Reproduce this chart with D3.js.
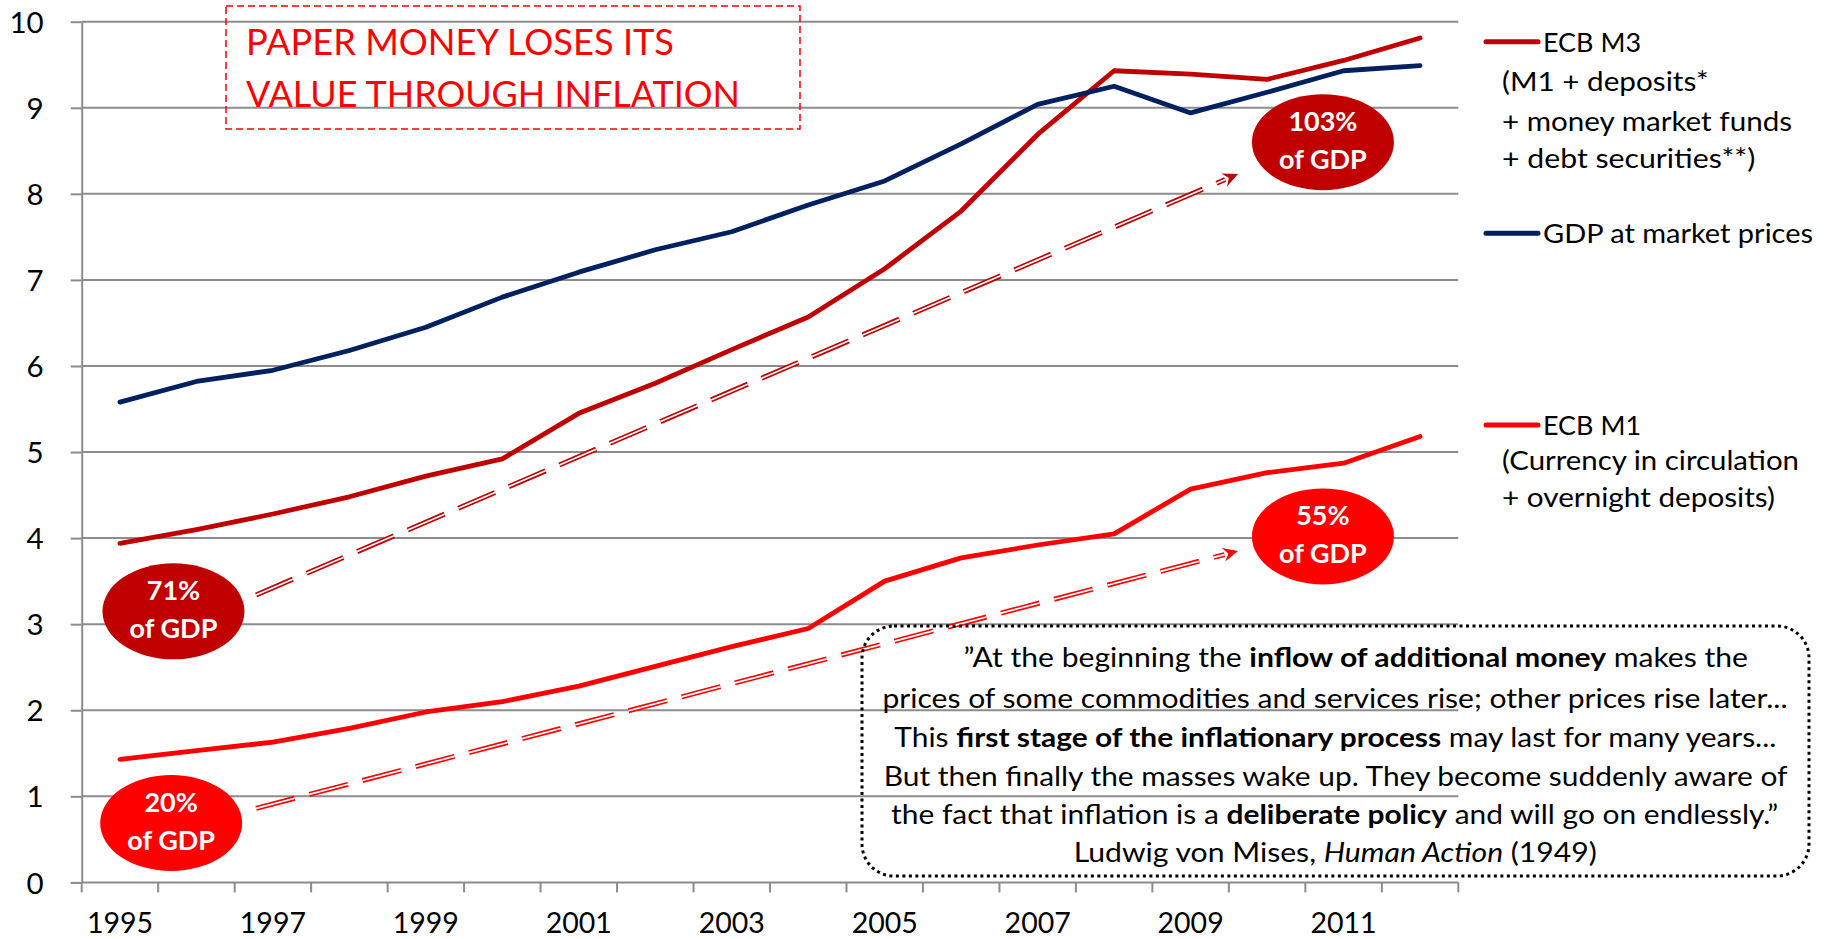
<!DOCTYPE html>
<html>
<head>
<meta charset="utf-8">
<script src="https://cdn.jsdelivr.net/npm/d3@7"></script>
<style>
  html, body { margin: 0; padding: 0; background: #fff; }
  svg { display: block; }
  text { font-family: Lato, "Open Sans", "DejaVu Sans", sans-serif; }
</style>
</head>
<body>
<svg id="chart" width="1831" height="939"></svg>
<script>
// ---------------- DATA ----------------
const years = [1995,1996,1997,1998,1999,2000,2001,2002,2003,2004,2005,2006,2007,2008,2009,2010,2011,2012];
const yearLabels = [1995,1997,1999,2001,2003,2005,2007,2009,2011];
const yTicks = [0,1,2,3,4,5,6,7,8,9,10];

const gdp = [5.58,5.82,5.95,6.18,6.45,6.80,7.09,7.35,7.56,7.87,8.15,8.58,9.04,9.25,8.94,9.18,9.43,9.49];
const m3  = [3.94,4.10,4.28,4.48,4.72,4.92,5.45,5.80,6.19,6.57,7.13,7.80,8.69,9.43,9.39,9.33,9.55,9.81];
const m1  = [1.43,1.53,1.63,1.79,1.98,2.10,2.28,2.51,2.74,2.95,3.50,3.77,3.92,4.05,4.57,4.76,4.87,5.18];

const seriesNames = ["ECB M3", "GDP at market prices", "ECB M1"];
const legendM3Notes = ["(M1 + deposits*", "+ money market funds", "+ debt securities**)"];
const legendM1Notes = ["(Currency in circulation", "+ overnight deposits)"];

const titleLines = ["PAPER MONEY LOSES ITS", "VALUE THROUGH INFLATION"];

// bubble labels: [top line, bottom line]
const bubbleLabels = [["71%", "of GDP"], ["103%", "of GDP"], ["20%", "of GDP"], ["55%", "of GDP"]];
// bubble centres in data space (fractional year, value)
const bubbleYears  = [1995.70, 2010.73, 1995.67, 2010.73];
const bubbleValues = [3.15, 8.60, 0.69, 4.02];
// growth arrows in data space
const arrowFromYear = [1996.78, 1996.78];
const arrowFromVal  = [3.34, 0.86];
const arrowToYear   = [2009.62, 2009.62];
const arrowToVal    = [8.23, 3.85];

const quoteLines = [
  [["\u201DAt the beginning the ", "n"], ["inflow of additional money", "b"], [" makes the", "n"]],
  [["prices of some commodities and services rise; other prices rise later...", "n"]],
  [["This ", "n"], ["first stage of the inflationary process", "b"], [" may last for many years...", "n"]],
  [["But then finally the masses wake up. They become suddenly aware of", "n"]],
  [["the fact that inflation is a ", "n"], ["deliberate policy", "b"], [" and will go on endlessly.\u201D", "n"]],
  [["Ludwig von Mises, ", "n"], ["Human Action", "i"], [" (1949)", "n"]]
];

// ---------------- LAYOUT / STYLE ----------------
const C_M3 = "#c00000", C_GDP = "#002060", C_M1 = "#ff0000", C_GRID = "#8c8c8c";
const svg = d3.select("#chart");

const x = d3.scaleBand().domain(years).range([81.7, 1458.3]).padding(0);
const xLin = d3.scaleLinear().domain([years[0] - 0.5, years[years.length - 1] + 0.5]).range([81.7, 1458.3]);
const y = d3.scaleLinear().domain([0, 10]).range([882.4, 21.7]);
const xc = d => x(d) + x.bandwidth() / 2;

// gridlines
svg.append("g").selectAll("line").data(yTicks.filter(d => d > 0)).join("line")
  .attr("x1", 81.7).attr("x2", 1458.3)
  .attr("y1", d => y(d)).attr("y2", d => y(d))
  .attr("stroke", C_GRID).attr("stroke-width", 2);

// y axis
const yAxis = d3.axisLeft(y).tickValues(yTicks).tickSize(11).tickSizeOuter(0).tickPadding(6);
const gy = svg.append("g").attr("transform", "translate(81.7,0)").call(yAxis);
gy.select(".domain").attr("stroke", C_GRID).attr("stroke-width", 2);
gy.selectAll(".tick line").attr("stroke", C_GRID).attr("stroke-width", 2);
gy.selectAll(".tick text").attr("font-size", 29.5).attr("fill", "#000")
  .attr("font-family", "Lato, 'Open Sans', sans-serif").attr("x", -38).attr("dy", "0.36em");

// x axis: ticks at band boundaries
const gx = svg.append("g").attr("transform", "translate(0,882.4)");
gx.append("line").attr("x1", 81.7).attr("x2", 1458.3).attr("stroke", C_GRID).attr("stroke-width", 2);
const bounds = years.map(d => x(d)).concat([x(years[years.length - 1]) + x.bandwidth()]);
gx.selectAll("line.tk").data(bounds).join("line").attr("class", "tk")
  .attr("x1", d => d).attr("x2", d => d).attr("y1", 0).attr("y2", 10)
  .attr("stroke", C_GRID).attr("stroke-width", 2);
gx.selectAll("text").data(yearLabels).join("text")
  .attr("x", d => xc(d)).attr("y", 50.8).attr("text-anchor", "middle")
  .attr("font-size", 28.5).attr("fill", "#000").text(d => d);

// growth arrows (double dashed)
const defs = svg.append("defs");
[C_M3, C_M1].forEach((c, i) => {
  defs.append("marker").attr("id", "ah" + i).attr("viewBox", "-16 -9 18 18")
    .attr("refX", 0).attr("refY", 0).attr("markerWidth", 18).attr("markerHeight", 18)
    .attr("markerUnits", "userSpaceOnUse").attr("orient", "auto")
    .append("path").attr("d", "M0,0 L-15,-7 L-10,0 L-15,7 Z").attr("fill", c);
});
[C_M3, C_M1].forEach((c, i) => {
  const x1 = xLin(arrowFromYear[i]), y1 = y(arrowFromVal[i]);
  const x2 = xLin(arrowToYear[i]), y2 = y(arrowToVal[i]);
  const ang = Math.atan2(y2 - y1, x2 - x1);
  const xe = x2 - 14 * Math.cos(ang), ye = y2 - 14 * Math.sin(ang);
  svg.append("line").attr("x1", x1).attr("y1", y1).attr("x2", xe).attr("y2", ye)
    .attr("stroke", c).attr("stroke-width", 5).attr("stroke-dasharray", "40 15");
  svg.append("line").attr("x1", x1).attr("y1", y1).attr("x2", xe).attr("y2", ye)
    .attr("stroke", "#fff").attr("stroke-width", 1.7).attr("stroke-dasharray", "40 15");
  svg.append("line").attr("x1", xe).attr("y1", ye).attr("x2", x2).attr("y2", y2)
    .attr("stroke", c).attr("stroke-width", 0).attr("marker-end", `url(#ah${i})`);
});

// series lines
const line = d3.line().x((d, i) => xc(years[i])).y(d => y(d));
[[m1, C_M1], [m3, C_M3], [gdp, C_GDP]].forEach(([s, c]) => {
  svg.append("path").datum(s).attr("d", line).attr("fill", "none")
    .attr("stroke", c).attr("stroke-width", 4.8)
    .attr("stroke-linejoin", "round").attr("stroke-linecap", "round");
});

// bubbles
const bubbleColors = [C_M3, C_M3, C_M1, C_M1];
bubbleLabels.forEach((lab, i) => {
  const cx = xLin(bubbleYears[i]), cy = y(bubbleValues[i]);
  svg.append("ellipse").attr("cx", cx).attr("cy", cy).attr("rx", 71).attr("ry", 48)
    .attr("fill", bubbleColors[i]);
  svg.append("text").attr("x", cx).attr("y", cy - 11).attr("text-anchor", "middle")
    .attr("font-size", 27).attr("font-weight", 700).attr("fill", "#fff").text(lab[0]);
  svg.append("text").attr("x", cx).attr("y", cy + 27).attr("text-anchor", "middle")
    .attr("font-size", 27).attr("font-weight", 700).attr("fill", "#fff").text(lab[1]);
});

// title box
svg.append("rect").attr("x", 226).attr("y", 6).attr("width", 574).attr("height", 123)
  .attr("fill", "none").attr("stroke", "#ff0000").attr("stroke-width", 1.5)
  .attr("stroke-dasharray", "7 4");
const titleLayout = [[246, 55, 428], [246, 107, 494]];
titleLines.forEach((t, i) => {
  svg.append("text").attr("x", titleLayout[i][0]).attr("y", titleLayout[i][1])
    .attr("font-size", 36).attr("fill", "#ff0000")
    .attr("textLength", titleLayout[i][2]).attr("lengthAdjust", "spacingAndGlyphs").text(t);
});

// legend
const legendRows = [
  { name: seriesNames[0], color: C_M3, ly: 41.7, base: 51.7, w: 98 },
  { name: seriesNames[1], color: C_GDP, ly: 233.3, base: 242.7, w: 270 },
  { name: seriesNames[2], color: C_M1, ly: 425, base: 434.5, w: 98 }
];
legendRows.forEach(r => {
  svg.append("line").attr("x1", 1486).attr("x2", 1538).attr("y1", r.ly).attr("y2", r.ly)
    .attr("stroke", r.color).attr("stroke-width", 5).attr("stroke-linecap", "round");
  svg.append("text").attr("x", 1543).attr("y", r.base).attr("font-size", 26.5).attr("fill", "#000")
    .attr("textLength", r.w).attr("lengthAdjust", "spacingAndGlyphs").text(r.name);
});
const m3NoteLayout = [[91, 206.6], [130.7, 290], [168.3, 253.3]];
legendM3Notes.forEach((t, i) => {
  svg.append("text").attr("x", 1502).attr("y", m3NoteLayout[i][0]).attr("font-size", 26.5)
    .attr("fill", "#000").attr("textLength", m3NoteLayout[i][1])
    .attr("lengthAdjust", "spacingAndGlyphs").text(t);
});
const m1NoteLayout = [[470, 297], [507, 273]];
legendM1Notes.forEach((t, i) => {
  svg.append("text").attr("x", 1502).attr("y", m1NoteLayout[i][0]).attr("font-size", 26.5)
    .attr("fill", "#000").attr("textLength", m1NoteLayout[i][1])
    .attr("lengthAdjust", "spacingAndGlyphs").text(t);
});

// quote box
svg.append("rect").attr("x", 862).attr("y", 626).attr("width", 947).attr("height", 250)
  .attr("rx", 32).attr("ry", 32).attr("fill", "none").attr("stroke", "#000")
  .attr("stroke-width", 3).attr("stroke-dasharray", "3 3.5");
const quoteLayout = [
  [963.6, 1747.9, 666.7], [882.5, 1787.5, 708], [894.3, 1776.3, 747],
  [883.8, 1787.5, 785.5], [891, 1778.2, 824.3], [1073.7, 1596.8, 862]
];
quoteLines.forEach((parts, i) => {
  const [x0, x1, b] = quoteLayout[i];
  const t = svg.append("text").attr("x", x0).attr("y", b).attr("font-size", 27).attr("fill", "#000")
    .attr("textLength", x1 - x0).attr("lengthAdjust", "spacingAndGlyphs");
  parts.forEach(([s, st]) => {
    t.append("tspan").attr("font-weight", st === "b" ? 700 : 400)
      .attr("font-style", st === "i" ? "italic" : "normal").text(s);
  });
});
</script>
</body>
</html>
